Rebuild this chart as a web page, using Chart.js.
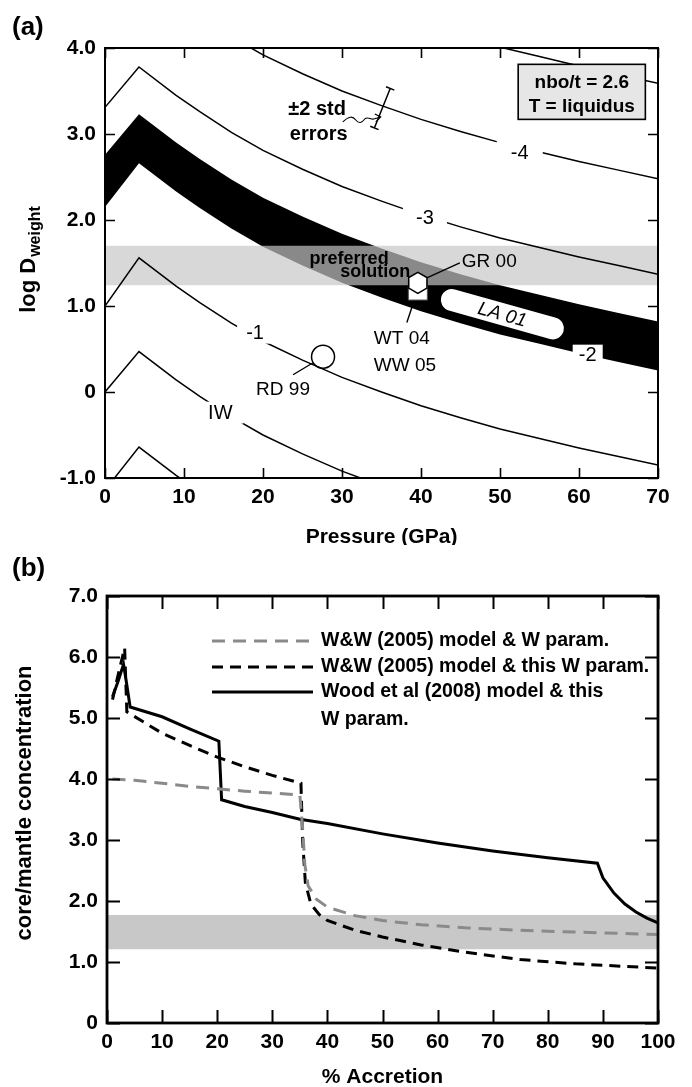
<!DOCTYPE html>
<html>
<head>
<meta charset="utf-8">
<title>W partitioning</title>
<script src="https://cdn.jsdelivr.net/npm/chart.js@4.4.1/dist/chart.umd.min.js"></script>
<style>
  html, body { margin: 0; padding: 0; background: #fff; }
  #page { position: relative; width: 692px; height: 1087px; overflow: hidden; background: #fff; }
  #page canvas { position: absolute; left: 0; }
</style>
</head>
<body>
<div id="page">
  <canvas id="panelA" width="692" height="545" style="top:0px"></canvas>
  <canvas id="panelB" width="692" height="542" style="top:545px"></canvas>
</div>
<script>
const FONT = "'Liberation Sans', Arial, Helvetica, sans-serif";
Chart.defaults.font.family = FONT;
Chart.defaults.color = '#000';
Chart.defaults.animation = false;

/* ---------- (a) log D(weight) versus pressure ---------- */
const pressureGPa = [0, 4.3, 9, 12, 16, 20, 25, 30, 35, 40, 45, 50, 55, 60, 65, 70];
// oxygen fugacity contours (log units relative to IW)
const logD_m5 = [5.50, 6.00, 5.67, 5.48, 5.24, 5.03, 4.81, 4.61, 4.44, 4.28, 4.14, 4.01, 3.90, 3.79, 3.69, 3.59];
const logD_m4 = [4.40, 4.89, 4.56, 4.37, 4.13, 3.92, 3.70, 3.50, 3.33, 3.17, 3.03, 2.90, 2.79, 2.68, 2.58, 2.48];
const logD_m3 = [3.31, 3.78, 3.45, 3.26, 3.02, 2.81, 2.59, 2.39, 2.22, 2.06, 1.92, 1.79, 1.68, 1.57, 1.47, 1.37];
const logD_m2_upper = [2.76, 3.23, 2.90, 2.71, 2.47, 2.26, 2.04, 1.84, 1.67, 1.51, 1.37, 1.24, 1.13, 1.02, 0.92, 0.82];
const logD_m2_lower = [2.15, 2.66, 2.33, 2.14, 1.90, 1.69, 1.47, 1.27, 1.10, 0.94, 0.80, 0.67, 0.56, 0.45, 0.35, 0.25];
const logD_m1 = [1.00, 1.56, 1.23, 1.04, 0.80, 0.59, 0.37, 0.17, 0.00, -0.16, -0.30, -0.43, -0.54, -0.65, -0.75, -0.85];
const logD_IW = [0.00, 0.47, 0.14, -0.05, -0.29, -0.50, -0.72, -0.92, -1.09, -1.25, -1.39, -1.52, -1.63, -1.74, -1.84, -1.94];
const logD_p1 = [-1.14, -0.64, -0.97, -1.16, -1.40, -1.61, -1.83, -2.03, -2.20, -2.36, -2.50, -2.63, -2.74, -2.85, -2.95, -3.05];
const preferredLogD = [1.24, 1.70];
const pressureTicks = [0, 10, 20, 30, 40, 50, 60, 70];
const logDTicks = [-1, 0, 1, 2, 3, 4];
// experimental studies: RD 99, GR 00, WT 04 / WW 05
const studyP = [27.6, 39.6, 39.6];
const studyLogD = [0.41, 1.27, 1.18];
// LA 01 range
const la01P = [43.9, 56.7];
const la01LogD = [1.07, 0.74];
// representative +/- 2 std error bar
const errorBarP = [34.1, 36.1];
const errorBarLogD = [3.07, 3.53];

/* ---------- (b) core/mantle concentration versus accretion ---------- */
const accretionWWold = [1, 5, 10, 15, 20, 25, 30, 35, 35.5, 35.9, 36.5, 38, 40, 45, 50, 57, 65, 75, 85, 100];
const ratioWWold = [4.00, 3.98, 3.93, 3.88, 3.84, 3.80, 3.77, 3.74, 3.20, 2.60, 2.25, 2.03, 1.90, 1.76, 1.68, 1.61, 1.56, 1.52, 1.49, 1.45];
const accretionWWnew = [1, 2, 3.2, 3.6, 10, 15, 20, 25, 30, 35.2, 35.5, 36, 37, 38.5, 40, 45, 50, 57, 65, 75, 85, 100];
const ratioWWnew = [5.30, 5.70, 6.15, 5.10, 4.75, 4.55, 4.36, 4.20, 4.06, 3.93, 3.00, 2.30, 1.95, 1.78, 1.68, 1.52, 1.41, 1.28, 1.16, 1.04, 0.97, 0.90];
const accretionWood = [1, 2, 3, 3.5, 4.2, 10, 15, 20.3, 20.8, 25, 30, 35, 40, 50, 60, 70, 80, 89, 90, 92, 94, 96, 98, 100];
const ratioWood = [5.35, 5.60, 5.88, 5.60, 5.18, 5.02, 4.82, 4.62, 3.66, 3.55, 3.45, 3.34, 3.27, 3.10, 2.95, 2.82, 2.71, 2.62, 2.38, 2.13, 1.95, 1.82, 1.72, 1.64];
const mantleRatioRange = [1.21, 1.77];
const seriesNames = ['W&W (2005) model & W param.', 'W&W (2005) model & this W param.', 'Wood et al (2008) model & this|W param.'];
const accretionTicks = [0, 10, 20, 30, 40, 50, 60, 70, 80, 90, 100];
const ratioTicks = [0, 1, 2, 3, 4, 5, 6, 7];

const pts = (xs, ys) => xs.map((x, i) => ({x, y: ys[i]}));
const tickLabel = v => (v === 0 ? '0' : v.toFixed(1));

// closed frame with inward tick marks on all four sides
function framePlugin(id, tickLen, frameW, tickW) {
  return {
    id,
    afterDraw(chart) {
      const {ctx, chartArea: a, scales: {x, y}} = chart;
      ctx.save();
      ctx.strokeStyle = '#000';
      ctx.lineWidth = tickW;
      ctx.beginPath();
      x.ticks.forEach(t => {
        const p = Math.round(x.getPixelForValue(t.value)) + 0.5;
        ctx.moveTo(p, a.bottom); ctx.lineTo(p, a.bottom - tickLen);
        ctx.moveTo(p, a.top); ctx.lineTo(p, a.top + tickLen);
      });
      y.ticks.forEach(t => {
        const p = Math.round(y.getPixelForValue(t.value)) + 0.5;
        ctx.moveTo(a.left, p); ctx.lineTo(a.left + tickLen, p);
        ctx.moveTo(a.right, p); ctx.lineTo(a.right - tickLen, p);
      });
      ctx.stroke();
      ctx.lineWidth = frameW;
      ctx.strokeRect(a.left, a.top, a.right - a.left, a.bottom - a.top);
      ctx.restore();
    }
  };
}

function axisScales(xTicks, yTicks, xMin, xMax, yMin, yMax, yWidth, xHeight, pad) {
  const tickFont = {size: 21, weight: 'bold'};
  return {
    x: {
      type: 'linear', min: xMin, max: xMax,
      grid: {display: false, drawTicks: false},
      border: {display: false},
      ticks: {font: tickFont, padding: pad, color: '#000', maxRotation: 0},
      afterBuildTicks: s => { s.ticks = xTicks.map(v => ({value: v})); },
      afterFit: s => { s.height = xHeight; }
    },
    y: {
      type: 'linear', min: yMin, max: yMax,
      grid: {display: false, drawTicks: false},
      border: {display: false},
      ticks: {font: tickFont, padding: 9, color: '#000', callback: tickLabel},
      afterBuildTicks: s => { s.ticks = yTicks.map(v => ({value: v})); },
      afterFit: s => { s.width = yWidth; }
    }
  };
}

/* ---------- panel (a) ---------- */
const contour = values => ({
  data: pts(pressureGPa, values), borderColor: '#000', borderWidth: 1.5,
  pointRadius: 0, tension: 0, fill: false, order: 0
});

const annotationsA = {
  id: 'annotationsA',
  afterDatasetsDraw(chart) {
    const {ctx, chartArea: a, scales: {x, y}} = chart;
    const X = v => x.getPixelForValue(v), Y = v => y.getPixelForValue(v);
    ctx.save();
    ctx.beginPath(); ctx.rect(a.left, a.top, a.right - a.left, a.bottom - a.top); ctx.clip();
    ctx.textAlign = 'center'; ctx.textBaseline = 'middle';

    // inline contour labels sitting in gaps of their lines
    const inline = (text, P, D, w, h) => {
      const cx = X(P), cy = Y(D);
      ctx.fillStyle = '#fff';
      ctx.fillRect(cx - w / 2, cy - h / 2, w, h);
      ctx.fillStyle = '#000';
      ctx.font = `20px ${FONT}`;
      ctx.fillText(text, cx, cy + 1);
    };
    inline('-4', 52.5, 2.79, 46, 22);
    inline('-3', 40.5, 2.03, 44, 22);
    inline('-1', 19.0, 0.69, 36, 22);
    inline('IW', 14.6, -0.24, 46, 22);
    inline('-2', 61.1, 0.44, 30, 19);

    ctx.strokeStyle = '#000';
    ctx.lineWidth = 1.4;

    // LA 01 pill along the -2 band
    const ax = X(la01P[0]), ay = Y(la01LogD[0]), bx = X(la01P[1]), by = Y(la01LogD[1]);
    const ang = Math.atan2(by - ay, bx - ax), len = Math.hypot(bx - ax, by - ay), r = 11;
    ctx.save();
    ctx.translate((ax + bx) / 2, (ay + by) / 2);
    ctx.rotate(ang);
    ctx.beginPath();
    ctx.roundRect(-len / 2 - r, -r, len + 2 * r, 2 * r, r);
    ctx.fillStyle = '#fff'; ctx.fill();
    ctx.fillStyle = '#000';
    ctx.font = `italic 19px ${FONT}`;
    ctx.fillText('LA 01', 0, 1);
    ctx.restore();

    // WT 04 / WW 05 square
    const sx = X(studyP[2]), sy = Y(studyLogD[2]);
    ctx.fillStyle = '#fff';
    ctx.fillRect(sx - 9.5, sy - 9.5, 19, 19);
    ctx.lineWidth = 1;
    ctx.strokeStyle = '#555';
    ctx.strokeRect(sx - 9.5, sy - 9.5, 19, 19);

    // GR 00 hexagon
    const hx = X(studyP[1]), hy = Y(studyLogD[1]), hr = 10.5;
    ctx.beginPath();
    for (let k = 0; k < 6; k++) {
      const t = -Math.PI / 2 + k * Math.PI / 3;
      const px = hx + hr * Math.cos(t), py = hy + hr * Math.sin(t);
      k ? ctx.lineTo(px, py) : ctx.moveTo(px, py);
    }
    ctx.closePath();
    ctx.fillStyle = '#fff'; ctx.fill();
    ctx.strokeStyle = '#000'; ctx.lineWidth = 1.5; ctx.stroke();

    // RD 99 circle
    const rx = X(studyP[0]), ry = Y(studyLogD[0]);
    ctx.beginPath(); ctx.arc(rx, ry, 11.5, 0, Math.PI * 2); ctx.stroke();

    // leader lines
    ctx.lineWidth = 1.4;
    ctx.beginPath();
    ctx.moveTo(rx - 10, ry + 6); ctx.lineTo(rx - 30, ry + 18);
    ctx.moveTo(hx + 9, hy - 5); ctx.lineTo(hx + 42, hy - 20);
    ctx.moveTo(sx - 6, sy + 17); ctx.lineTo(sx - 11, sy + 32);
    ctx.stroke();

    // study labels
    ctx.fillStyle = '#000';
    ctx.font = `19px ${FONT}`;
    ctx.textAlign = 'left';
    ctx.fillText('GR 00', hx + 44, hy - 21);
    ctx.fillText('WT 04', sx - 44, sy + 48);
    ctx.fillText('WW 05', sx - 44, sy + 75);
    ctx.textAlign = 'center';
    ctx.fillText('RD 99', rx - 40, ry + 33);

    // preferred solution
    ctx.font = `bold 18px ${FONT}`;
    ctx.fillText('preferred', X(30.9), Y(1.55));
    ctx.fillText('solution', X(34.2), Y(1.40));

    // +/- 2 std errors note with error bar
    ctx.font = `bold 20px ${FONT}`;
    ctx.textAlign = 'left';
    ctx.fillText('\u00B12 std', X(23.2), Y(3.28));
    ctx.fillText('errors', X(23.4), Y(2.99));

    const e0x = X(errorBarP[0]), e0y = Y(errorBarLogD[0]), e1x = X(errorBarP[1]), e1y = Y(errorBarLogD[1]);
    const ea = Math.atan2(e1y - e0y, e1x - e0x), cap = 4.5;
    const nx = -Math.sin(ea) * cap, ny = Math.cos(ea) * cap;
    ctx.lineWidth = 1.5;
    ctx.beginPath();
    ctx.moveTo(e0x, e0y); ctx.lineTo(e1x, e1y);
    ctx.moveTo(e0x - nx, e0y - ny); ctx.lineTo(e0x + nx, e0y + ny);
    ctx.moveTo(e1x - nx, e1y - ny); ctx.lineTo(e1x + nx, e1y + ny);
    ctx.stroke();

    // squiggly pointer to the error bar
    const qx = X(30.1), qy = Y(3.14);
    ctx.lineWidth = 1.1;
    ctx.beginPath();
    ctx.moveTo(qx, qy);
    ctx.bezierCurveTo(qx + 6, qy - 6, qx + 10, qy - 6, qx + 13, qy - 2);
    ctx.bezierCurveTo(qx + 16, qy + 2, qx + 19, qy + 1, qx + 22, qy - 3);
    ctx.bezierCurveTo(qx + 25, qy - 6, qx + 28, qy - 2, qx + 31, qy - 3);
    ctx.lineTo(qx + 38, qy - 5);
    ctx.moveTo(qx + 32, qy - 8); ctx.lineTo(qx + 38, qy - 5); ctx.lineTo(qx + 33, qy);
    ctx.stroke();

    // conditions box
    const bx0 = X(52.3), by0 = Y(3.81), bx1 = X(68.4), by1 = Y(3.17);
    ctx.fillStyle = '#e6e6e6';
    ctx.fillRect(bx0, by0, bx1 - bx0, by1 - by0);
    ctx.lineWidth = 1.6; ctx.strokeStyle = '#000';
    ctx.strokeRect(bx0, by0, bx1 - bx0, by1 - by0);
    ctx.fillStyle = '#000';
    ctx.font = `bold 19px ${FONT}`;
    ctx.textAlign = 'center';
    ctx.fillText('nbo/t = 2.6', (bx0 + bx1) / 2, by0 + 18);
    ctx.fillText('T = liquidus', (bx0 + bx1) / 2, by0 + 42);
    ctx.restore();
  },
  afterDraw(chart) {
    const {ctx, chartArea: a} = chart;
    ctx.save();
    ctx.fillStyle = '#000';
    ctx.textBaseline = 'middle';
    ctx.textAlign = 'left';
    ctx.font = `bold 26px ${FONT}`;
    ctx.fillText('(a)', 12, 28);
    ctx.textAlign = 'center';
    ctx.font = `bold 21px ${FONT}`;
    ctx.fillText('Pressure (GPa)', (a.left + a.right) / 2, 537);
    // rotated y title with subscript
    ctx.translate(29, 260);
    ctx.rotate(-Math.PI / 2);
    ctx.font = `bold 22px ${FONT}`;
    const w1 = ctx.measureText('log D').width;
    ctx.font = `bold 16px ${FONT}`;
    const w2 = ctx.measureText('weight').width;
    const start = -(w1 + w2) / 2;
    ctx.textAlign = 'left';
    ctx.font = `bold 22px ${FONT}`;
    ctx.fillText('log D', start, 0);
    ctx.font = `bold 16px ${FONT}`;
    ctx.fillText('weight', start + w1 + 1, 7);
    ctx.restore();
  }
};

new Chart(document.getElementById('panelA'), {
  type: 'line',
  data: {
    datasets: [
      contour(logD_m5), contour(logD_m4), contour(logD_m3),
      contour(logD_m1), contour(logD_IW), contour(logD_p1),
      {data: pts([0, 70], [preferredLogD[1], preferredLogD[1]]), borderWidth: 0, pointRadius: 0,
       fill: '+1', backgroundColor: 'rgba(198,198,198,0.69)', order: 1},
      {data: pts([0, 70], [preferredLogD[0], preferredLogD[0]]), borderWidth: 0, pointRadius: 0,
       fill: false, order: 1},
      {data: pts(pressureGPa, logD_m2_upper), borderWidth: 0, pointRadius: 0, tension: 0,
       fill: '+1', backgroundColor: '#000', order: 2},
      {data: pts(pressureGPa, logD_m2_lower), borderWidth: 0, pointRadius: 0, tension: 0,
       fill: false, order: 2}
    ]
  },
  options: {
    responsive: false,
    animation: false,
    events: [],
    layout: {padding: {top: 48, right: 34, left: 0, bottom: 0}},
    plugins: {legend: {display: false}, tooltip: {enabled: false}},
    scales: axisScales(pressureTicks, logDTicks, 0, 70, -1, 4, 105, 67, 7)
  },
  plugins: [annotationsA, framePlugin('frameA', 10, 2, 1.6)]
});

/* ---------- panel (b) ---------- */
const styleB = [
  {color: '#8a8a8a', dash: [13, 8]},
  {color: '#000', dash: [11, 7]},
  {color: '#000', dash: []}
];

const annotationsB = {
  id: 'annotationsB',
  afterDraw(chart) {
    const {ctx, chartArea: a} = chart;
    ctx.save();
    ctx.fillStyle = '#000';
    ctx.textBaseline = 'middle';
    // legend
    const rowsY = [96, 122, 147];
    chart.data.datasets.slice(0, 3).forEach((ds, i) => {
      ctx.strokeStyle = ds.borderColor;
      ctx.lineWidth = 3;
      ctx.setLineDash(ds.borderDash || []);
      ctx.beginPath();
      ctx.moveTo(212, rowsY[i]); ctx.lineTo(313, rowsY[i]);
      ctx.stroke();
    });
    ctx.setLineDash([]);
    ctx.font = `bold 19.5px ${FONT}`;
    ctx.textAlign = 'left';
    ctx.fillText(seriesNames[0], 321, rowsY[0]);
    ctx.fillText(seriesNames[1], 321, rowsY[1]);
    const [l3, l4] = seriesNames[2].split('|');
    ctx.fillText(l3, 321, rowsY[2]);
    ctx.fillText(l4, 321, 175);

    ctx.font = `bold 26px ${FONT}`;
    ctx.fillText('(b)', 12, 24);
    ctx.textAlign = 'center';
    ctx.font = `bold 21px ${FONT}`;
    ctx.fillText('% Accretion', (a.left + a.right) / 2, 532);
    ctx.translate(25, 258);
    ctx.rotate(-Math.PI / 2);
    ctx.font = `bold 22px ${FONT}`;
    ctx.fillText('core/mantle concentration', 0, 0);
    ctx.restore();
  }
};

new Chart(document.getElementById('panelB'), {
  type: 'line',
  data: {
    datasets: [
      {label: seriesNames[0], data: pts(accretionWWold, ratioWWold), borderColor: styleB[0].color,
       borderDash: styleB[0].dash, borderWidth: 3, pointRadius: 0, tension: 0, fill: false, order: 0},
      {label: seriesNames[1], data: pts(accretionWWnew, ratioWWnew), borderColor: styleB[1].color,
       borderDash: styleB[1].dash, borderWidth: 3, pointRadius: 0, tension: 0, fill: false, order: 0},
      {label: seriesNames[2], data: pts(accretionWood, ratioWood), borderColor: styleB[2].color,
       borderWidth: 3, pointRadius: 0, tension: 0, fill: false, order: 0},
      {data: pts([0, 100], [mantleRatioRange[1], mantleRatioRange[1]]), borderWidth: 0, pointRadius: 0,
       fill: '+1', backgroundColor: '#c8c8c8', order: 1},
      {data: pts([0, 100], [mantleRatioRange[0], mantleRatioRange[0]]), borderWidth: 0, pointRadius: 0,
       fill: false, order: 1}
    ]
  },
  options: {
    responsive: false,
    animation: false,
    events: [],
    layout: {padding: {top: 51, right: 34, left: 0, bottom: 0}},
    plugins: {legend: {display: false}, tooltip: {enabled: false}},
    scales: axisScales(accretionTicks, ratioTicks, 0, 100, 0, 7, 107, 64, 7)
  },
  plugins: [annotationsB, framePlugin('frameB', 13, 2.8, 2)]
});
</script>
</body>
</html>
